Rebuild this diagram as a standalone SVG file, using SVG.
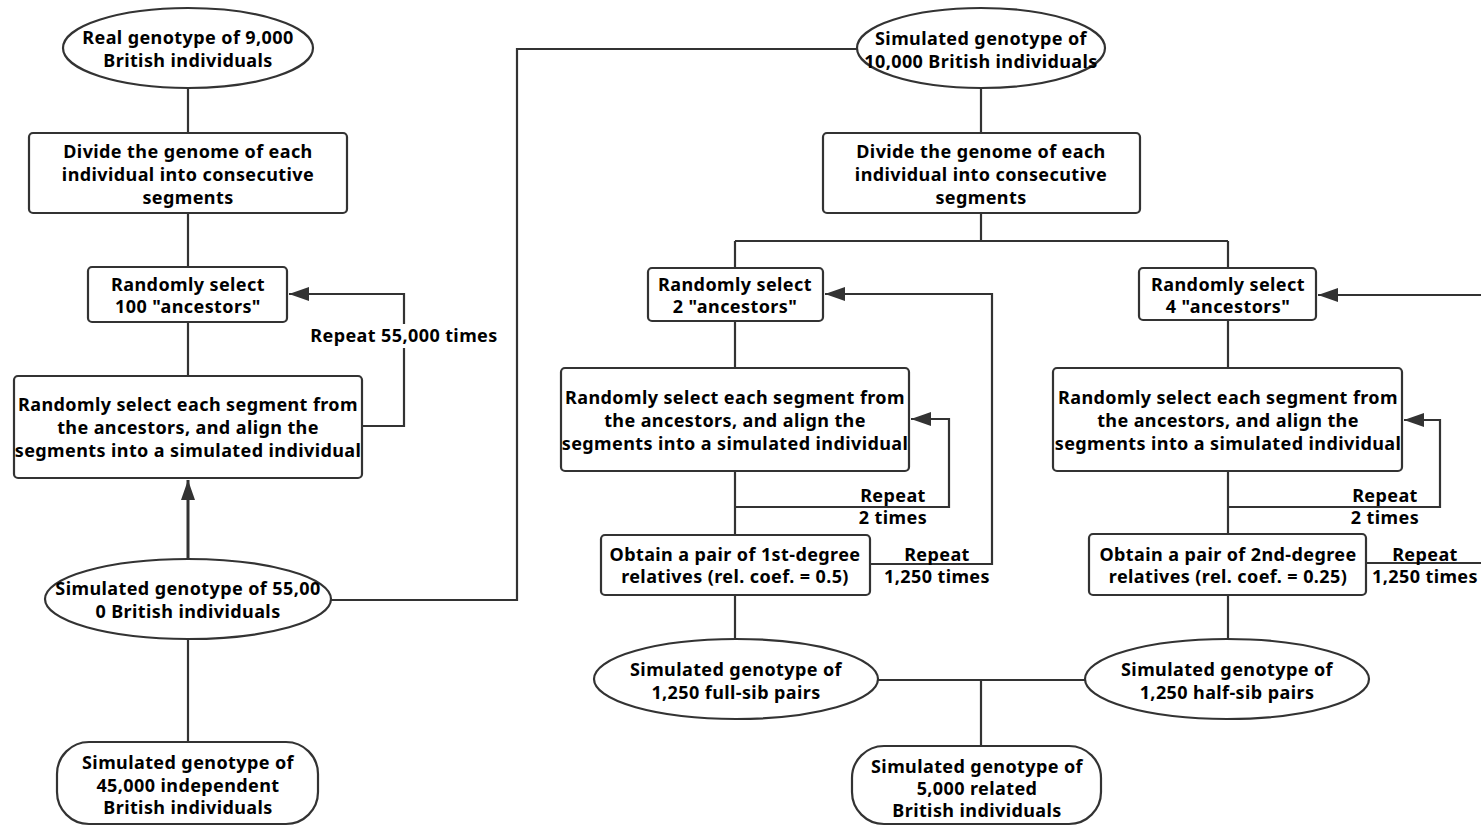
<svg xmlns="http://www.w3.org/2000/svg" width="1481" height="826" viewBox="0 0 1481 826">
<defs>
<marker id="arr" markerUnits="userSpaceOnUse" markerWidth="20" markerHeight="14" refX="20" refY="7" orient="auto">
<path d="M0,0 L20,7 L0,14 z" fill="#333"/>
</marker>
<style>
.sh{fill:#fff;stroke:#333;stroke-width:2.2}
.t{font-family:"Noto Sans","Open Sans","Liberation Sans",sans-serif;font-weight:bold;font-size:18px;letter-spacing:0.4px;fill:#000;text-anchor:middle}
.c{fill:none;stroke:#333;stroke-width:2.2}
.a{marker-end:url(#arr)}
</style>
</defs>
<rect width="1481" height="826" fill="#fff"/>
<g id="connectors">
<path class="c" d="M188,88 V133 M188,213 V267 M188,322 V376 M188,640 V742"/>
<path class="c a" d="M188,559 V480" style="stroke-width:3"/>
<path class="c a" d="M362,426 H404 V294 H289"/>
<path class="c" d="M330,600 H517 V49 H857"/>
<path class="c" d="M981,88 V133 M981,213 V241 M735,241 H1228 M735,241 V268 M1228,241 V268"/>
<path class="c" d="M735,321 V368 M735,471 V535 M735,595 V639"/>
<path class="c a" d="M735,507 H949 V419 H911"/>
<path class="c a" d="M870,564 H992 V294 H825"/>
<path class="c" d="M878,680 H1085 M981,680 V746"/>
<path class="c" d="M1228,320 V368 M1228,471 V534 M1228,595 V639"/>
<path class="c a" d="M1228,507 H1440 V420 H1404"/>
<path class="c" d="M1366,563 H1481"/>
<path class="c a" d="M1481,295 H1318"/>
</g>
<g id="n1"><ellipse class="sh" cx="188" cy="48" rx="125" ry="40"/><text class="t" x="188" y="44">Real genotype of 9,000</text><text class="t" x="188" y="67">British individuals</text></g>
<g id="n2"><rect class="sh" x="29" y="133" width="318" height="80" rx="4"/><text class="t" x="188" y="158">Divide the genome of each</text><text class="t" x="188" y="181">individual into consecutive</text><text class="t" x="188" y="204">segments</text></g>
<g id="n3"><rect class="sh" x="88" y="267" width="199" height="55" rx="4"/><text class="t" x="188" y="291">Randomly select</text><text class="t" x="188" y="313">100 "ancestors"</text></g>
<g id="n4"><rect class="sh" x="14" y="376" width="348" height="102" rx="4"/><text class="t" x="188" y="411">Randomly select each segment from</text><text class="t" x="188" y="434">the ancestors, and align the</text><text class="t" x="188" y="457">segments into a simulated individual</text></g>
<g id="n5"><ellipse class="sh" cx="188" cy="599" rx="143" ry="40"/><text class="t" x="188" y="595">Simulated genotype of 55,00</text><text class="t" x="188" y="618">0 British individuals</text></g>
<g id="n6"><rect class="sh" x="57" y="742" width="261" height="82" rx="32"/><text class="t" x="188" y="769">Simulated genotype of</text><text class="t" x="188" y="792">45,000 independent</text><text class="t" x="188" y="814">British individuals</text></g>
<g id="n7"><ellipse class="sh" cx="981" cy="48" rx="124" ry="40"/><text class="t" x="981" y="45">Simulated genotype of</text><text class="t" x="981" y="68">10,000 British individuals</text></g>
<g id="n8"><rect class="sh" x="823" y="133" width="317" height="80" rx="4"/><text class="t" x="981" y="158">Divide the genome of each</text><text class="t" x="981" y="181">individual into consecutive</text><text class="t" x="981" y="204">segments</text></g>
<g id="n9"><rect class="sh" x="648" y="268" width="175" height="53" rx="4"/><text class="t" x="735" y="291">Randomly select</text><text class="t" x="735" y="313">2 "ancestors"</text></g>
<g id="n10"><rect class="sh" x="561" y="368" width="348" height="103" rx="4"/><text class="t" x="735" y="404">Randomly select each segment from</text><text class="t" x="735" y="427">the ancestors, and align the</text><text class="t" x="735" y="450">segments into a simulated individual</text></g>
<g id="n11"><rect class="sh" x="601" y="535" width="269" height="60" rx="4"/><text class="t" x="735" y="561">Obtain a pair of 1st-degree</text><text class="t" x="735" y="583">relatives (rel. coef. = 0.5)</text></g>
<g id="n12"><ellipse class="sh" cx="736" cy="679" rx="142" ry="40"/><text class="t" x="736" y="676">Simulated genotype of</text><text class="t" x="736" y="699">1,250 full-sib pairs</text></g>
<g id="n13"><rect class="sh" x="1139" y="268" width="177" height="52" rx="4"/><text class="t" x="1228" y="291">Randomly select</text><text class="t" x="1228" y="313">4 "ancestors"</text></g>
<g id="n14"><rect class="sh" x="1053" y="368" width="349" height="103" rx="4"/><text class="t" x="1228" y="404">Randomly select each segment from</text><text class="t" x="1228" y="427">the ancestors, and align the</text><text class="t" x="1228" y="450">segments into a simulated individual</text></g>
<g id="n15"><rect class="sh" x="1089" y="534" width="277" height="61" rx="4"/><text class="t" x="1228" y="561">Obtain a pair of 2nd-degree</text><text class="t" x="1228" y="583">relatives (rel. coef. = 0.25)</text></g>
<g id="n16"><ellipse class="sh" cx="1227" cy="679" rx="142" ry="40"/><text class="t" x="1227" y="676">Simulated genotype of</text><text class="t" x="1227" y="699">1,250 half-sib pairs</text></g>
<g id="n17"><rect class="sh" x="852" y="746" width="249" height="78" rx="32"/><text class="t" x="977" y="773">Simulated genotype of</text><text class="t" x="977" y="795">5,000 related</text><text class="t" x="977" y="817">British individuals</text></g>
<g id="labels">
<rect x="309" y="324" width="192" height="24" fill="#fff"/>
<text class="t" x="404" y="342">Repeat 55,000 times</text>
<text class="t" x="893" y="502">Repeat</text><text class="t" x="893" y="524">2 times</text>
<text class="t" x="937" y="561">Repeat</text><text class="t" x="937" y="583">1,250 times</text>
<text class="t" x="1385" y="502">Repeat</text><text class="t" x="1385" y="524">2 times</text>
<text class="t" x="1425" y="561">Repeat</text><text class="t" x="1425" y="583">1,250 times</text>
</g>
</svg>
